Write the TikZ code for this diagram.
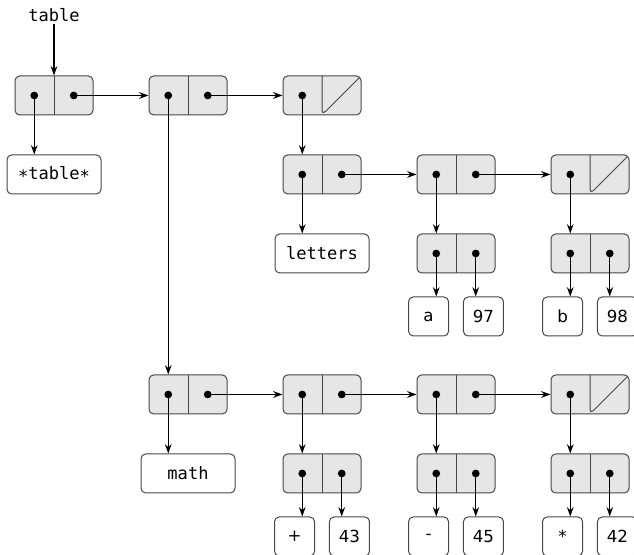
\documentclass[tikz,border=0pt]{standalone}
\usepackage{fontspec}
\newfontfamily\codefont{DejaVu Sans Mono}
\newfontfamily\valfont{DejaVu Sans}
\usetikzlibrary{arrows.meta, positioning, calc}
\definecolor{cellfill}{HTML}{E6E6E6}
\definecolor{boxline}{HTML}{474747}
\newcommand{\lowstar}{\raisebox{-0.3ex}{*}}

\begin{document}
\begin{tikzpicture}[auto, line width=1pt, node distance=100.5pt, >={Stealth[length=7pt,width=5pt]}]

		% Define block styles
		\tikzstyle{pair} = [rectangle, draw=boxline, line width=0.75pt, fill=cellfill, rounded corners=3.5pt, minimum width=58.5pt, minimum height=29.25pt, inner sep=0pt, path picture={\draw[boxline, line width=0.75pt] (path picture bounding box.north) -- (path picture bounding box.south);}]
		\tikzstyle{nilpair} = [pair, path picture={\draw[boxline, line width=0.75pt] (path picture bounding box.north) -- (path picture bounding box.south) -- (path picture bounding box.north east);}]
		\tikzstyle{namebox} = [rectangle, draw=boxline, line width=0.75pt, rounded corners=3.5pt, minimum width=70.5pt, minimum height=29.25pt, font=\codefont\fontsize{12.8}{14}\selectfont]
		\tikzstyle{valbox} = [rectangle, draw=boxline, line width=0.75pt, rounded corners=3.5pt, minimum width=30pt, minimum height=29.25pt, inner sep=0pt, font=\valfont\fontsize{12.5}{14}\selectfont]

		\useasboundingbox (0,0) rectangle (475.5pt,-416.25pt);

		% Nodes
		\node[pair] (p1) at (40.5pt,-71.6pt) {};
		\node[pair, right of=p1] (p2) {};
		\node[nilpair, right of=p2] (p3) {};
		\node[pair, below of=p3, node distance=59.25pt] (p4) {};
		\node[pair, right of=p4] (p5) {};
		\node[nilpair, right of=p5] (p6) {};
		\node[pair, below of=p5, node distance=59.25pt] (q5) {};
		\node[pair, below of=p6, node distance=59.25pt] (q6) {};
		
		\node[pair, below of=p2, node distance=224.25pt] (m1) {};
		\node[pair, right of=m1] (m2) {};
		\node[pair, right of=m2] (m3) {};
		\node[nilpair, right of=m3] (m4) {};
		\node[pair, below of=m2, node distance=59.25pt] (n2) {};
		\node[pair, below of=m3, node distance=59.25pt] (n3) {};
		\node[pair, below of=m4, node distance=59.25pt] (n4) {};
		
		% Labels
		\node[above of=p1, node distance=60.4pt, inner sep=1.5pt, font=\codefont\fontsize{12.8}{14}\selectfont] (tname) {table};
		\node[namebox, below of=p1, node distance=59.25pt] (tbl) {\lowstar table\lowstar};
		\node[namebox, below of=p4, node distance=59.25pt] (let) {letters};
		\node[namebox, below of=m1, node distance=59.25pt] (mth) {math};
		
		\node[valbox, below of=q5, node distance=47.25pt, xshift=-20.6pt] (va) {a};
		\node[valbox, below of=q5, node distance=47.25pt, xshift=20.6pt] (v97) {97};
		\node[valbox, below of=q6, node distance=47.25pt, xshift=-20.6pt] (vb) {b};
		\node[valbox, below of=q6, node distance=47.25pt, xshift=20.6pt] (v98) {98};
		\node[valbox, below of=n2, node distance=47.25pt, xshift=-20.6pt] (vplus) {+};
		\node[valbox, below of=n2, node distance=47.25pt, xshift=20.6pt] (v43) {43};
		\node[valbox, below of=n3, node distance=47.25pt, xshift=-20.6pt] (vminus) {-};
		\node[valbox, below of=n3, node distance=47.25pt, xshift=20.6pt] (v45) {45};
		\node[valbox, below of=n4, node distance=47.25pt, xshift=-20.6pt] (vtimes) {\lowstar};
		\node[valbox, below of=n4, node distance=47.25pt, xshift=20.6pt] (v42) {42};
		
		% Cell centres
		\foreach \p in {p1,p2,p3,p4,p5,p6,q5,q6,m1,m2,m3,m4,n2,n3,n4} {
			\coordinate (\p a) at ($(\p.west)!0.5!(\p.center)$);
			\coordinate (\p d) at ($(\p.east)!0.5!(\p.center)$);
		}
		
		% Arrows
		\draw[->] (tname) -- (p1);
		\draw[->] (p1a) -- (p1a |- tbl.north);
		\draw[->] (p1d) -- (p2);
		\draw[->] (p2d) -- (p3);
		\draw[->] (p2a) -- (p2a |- m1.north);
		\draw[->] (p3a) -- (p3a |- p4.north);
		\draw[->] (p4a) -- (p4a |- let.north);
		\draw[->] (p4d) -- (p5);
		\draw[->] (p5d) -- (p6);
		\draw[->] (p5a) -- (p5a |- q5.north);
		\draw[->] (p6a) -- (p6a |- q6.north);
		\draw[->] (q5a) -- (q5a |- va.north);
		\draw[->] (q5d) -- (q5d |- v97.north);
		\draw[->] (q6a) -- (q6a |- vb.north);
		\draw[->] (q6d) -- (q6d |- v98.north);
		
		\draw[->] (m1a) -- (m1a |- mth.north);
		\draw[->] (m1d) -- (m2);
		\draw[->] (m2d) -- (m3);
		\draw[->] (m3d) -- (m4);
		\draw[->] (m2a) -- (m2a |- n2.north);
		\draw[->] (m3a) -- (m3a |- n3.north);
		\draw[->] (m4a) -- (m4a |- n4.north);
		\draw[->] (n2a) -- (n2a |- vplus.north);
		\draw[->] (n2d) -- (n2d |- v43.north);
		\draw[->] (n3a) -- (n3a |- vminus.north);
		\draw[->] (n3d) -- (n3d |- v45.north);
		\draw[->] (n4a) -- (n4a |- vtimes.north);
		\draw[->] (n4d) -- (n4d |- v42.north);
		
		% Dots
		\foreach \p in {p1,p2,p3,p4,p5,p6,q5,q6,m1,m2,m3,m4,n2,n3,n4}
			\fill (\p a) circle (2.9pt);
		\foreach \p in {p1,p2,p4,p5,q5,q6,m1,m2,m3,n2,n3,n4}
			\fill (\p d) circle (2.9pt);
		
	\end{tikzpicture}
\end{document}
